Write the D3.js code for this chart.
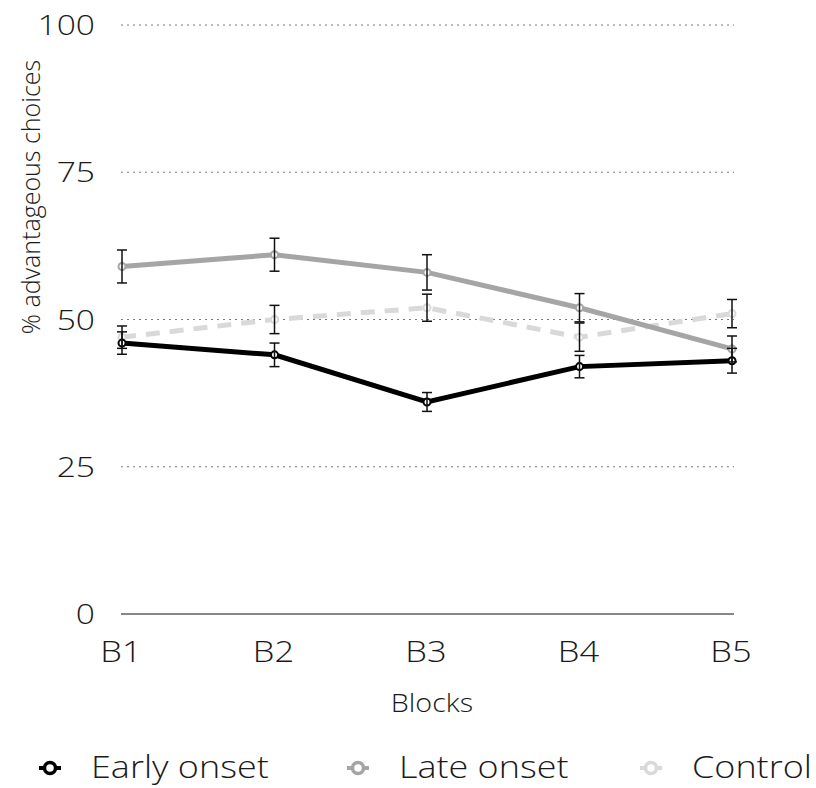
<!DOCTYPE html>
<html>
<head>
<meta charset="utf-8">
<script src="https://cdn.jsdelivr.net/npm/d3@7"></script>
<style>
  body { margin: 0; background: #fff; }
  svg text { font-family: "Open Sans", "Liberation Sans", sans-serif; font-weight: 300; fill: #1a1a1a; }
</style>
</head>
<body>
<div id="chart"></div>
<script>
// data
const blocks = ["B1", "B2", "B3", "B4", "B5"];
const yTicks = [0, 25, 50, 75, 100];

const earlyMean = [46, 44, 36, 42, 43];
const earlyErr  = [1.9, 2.0, 1.6, 1.9, 2.1];
const lateMean  = [59, 61, 58, 52, 45];
const lateErr   = [2.8, 2.8, 3.0, 2.4, 2.2];
const ctrlMean  = [47, 50, 52, 47, 51];
const ctrlErr   = [1.9, 2.4, 2.3, 2.4, 2.4];

const groups = [
    {name: "Control",     mean: ctrlMean,  err: ctrlErr,  color: "#d9d9d9", dash: "14,10"},
    {name: "Late onset",  mean: lateMean,  err: lateErr,  color: "#a5a5a5", dash: null},
    {name: "Early onset", mean: earlyMean, err: earlyErr, color: "#000000", dash: null}
];
const legendOrder = ["Early onset", "Late onset", "Control"];

const W = 816, H = 788;
const svg = d3.select("#chart").append("svg")
    .attr("width", W)
    .attr("height", H);

let x = d3.scalePoint()
    .domain(blocks)
    .range([122, 732]);

let y = d3.scaleLinear()
    .domain([0, 100])
    .range([614, 25]);

// the original type is wide, so stretch text a little horizontally
function place(tx, ty, sx) {
    return "translate(" + tx + "," + ty + ") scale(" + sx + ",1)";
}

// gridlines (dotted) for non-zero ticks
svg.append("g")
    .selectAll("line")
    .data(yTicks.filter(d => d > 0))
    .join("line")
    .attr("x1", 121)
    .attr("x2", 734)
    .attr("y1", d => y(d))
    .attr("y2", d => y(d))
    .style("stroke", "#777")
    .style("stroke-width", 1)
    .style("stroke-dasharray", "2,4");

// baseline at 0
svg.append("line")
    .attr("x1", 121)
    .attr("x2", 734)
    .attr("y1", y(0))
    .attr("y2", y(0))
    .style("stroke", "#111")
    .style("stroke-width", 1.2);

// y tick labels
svg.append("g")
    .selectAll("text")
    .data(yTicks)
    .join("text")
    .attr("transform", d => place(95, y(d) + 10, 1.2))
    .attr("text-anchor", "end")
    .attr("font-size", 28)
    .text(d => d);

// x tick labels
svg.append("g")
    .selectAll("text")
    .data(blocks)
    .join("text")
    .attr("transform", d => place(x(d) - 1, 662, 1.15))
    .attr("text-anchor", "middle")
    .attr("font-size", 30)
    .text(d => d);

// axis titles
svg.append("text")
    .attr("transform", place(432, 712, 1.15))
    .attr("text-anchor", "middle")
    .attr("font-size", 25)
    .text("Blocks");

svg.append("text")
    .attr("transform", "translate(40,197) rotate(-90)")
    .attr("text-anchor", "middle")
    .attr("font-size", 25)
    .text("% advantageous choices");

// lines
const line = d3.line()
    .x((d, i) => x(blocks[i]))
    .y(d => y(d));

groups.forEach(g => {
    svg.append("path")
        .datum(g.mean)
        .attr("d", line)
        .style("fill", "none")
        .style("stroke", g.color)
        .style("stroke-width", 5)
        .style("stroke-dasharray", g.dash);

    svg.append("g")
        .selectAll("circle")
        .data(g.mean)
        .join("circle")
        .attr("cx", (d, i) => x(blocks[i]))
        .attr("cy", d => y(d))
        .attr("r", 3.5)
        .style("fill", "#fff")
        .style("stroke", g.color)
        .style("stroke-width", 2);
});

// error bars on top
groups.forEach(g => {
    const eb = svg.append("g").style("stroke", "#111").style("stroke-width", 1.5);
    g.mean.forEach((m, i) => {
        const cx = x(blocks[i]);
        eb.append("line")
            .attr("x1", cx).attr("x2", cx)
            .attr("y1", y(m + g.err[i])).attr("y2", y(m - g.err[i]));
        [m + g.err[i], m - g.err[i]].forEach(v => {
            eb.append("line")
                .attr("x1", cx - 5).attr("x2", cx + 5)
                .attr("y1", y(v)).attr("y2", y(v));
        });
    });
});

// legend: short line stub with an open circle, then the name
const legendX = [50, 358, 651];
const legend = svg.append("g");
legendOrder.forEach((name, i) => {
    const g = groups.find(d => d.name === name);
    legend.append("line")
        .attr("x1", legendX[i] - 11)
        .attr("x2", legendX[i] + 11)
        .attr("y1", 768)
        .attr("y2", 768)
        .style("stroke", g.color)
        .style("stroke-width", 4);
    legend.append("circle")
        .attr("cx", legendX[i])
        .attr("cy", 768)
        .attr("r", 5.5)
        .style("fill", "#fff")
        .style("stroke", g.color)
        .style("stroke-width", 3.5);
    legend.append("text")
        .attr("transform", place(legendX[i] + 41, 778, 1.16))
        .attr("font-size", 31)
        .text(name);
});
</script>
</body>
</html>
